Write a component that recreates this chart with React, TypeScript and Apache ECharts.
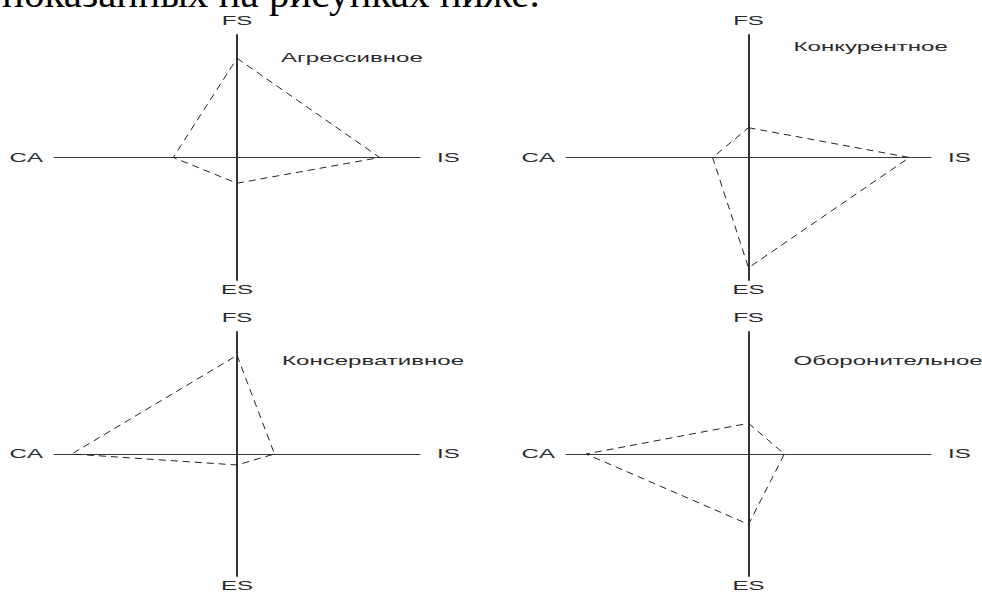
import React, { useEffect, useRef } from "react";
import * as echarts from "echarts";

const strategies = ["Агрессивное", "Конкурентное", "Консервативное", "Оборонительное"];
const axisNames = ["FS", "ES", "CA", "IS"];
const fsValues = [4.86, 1.46, 4.85, 1.51];
const isValues = [4.68, 5.29, 1.23, 1.18];
const esValues = [-1.26, -5.4, -0.54, -3.46];
const caValues = [-2.09, -1.18, -5.42, -5.34];
const axisTicks = [-6, 6];
const headerText = "показанных на рисунках ниже.";

// layout of the four panels (pixels)
const panels = [
  { left: 54, top: 35, width: 366, height: 245 },
  { left: 566, top: 35, width: 365, height: 245 },
  { left: 54, top: 332, width: 366, height: 244 },
  { left: 566, top: 332, width: 365, height: 244 },
];
const titleOffsets = [
  { dx: 44, y: 57.5 },
  { dx: 45, y: 47 },
  { dx: 45, y: 360.7 },
  { dx: 45, y: 361 },
];

const LABEL_FONT = '"Liberation Sans", Arial, sans-serif';
const STRETCH = 1.85;

export default function App() {
  const ref = useRef<HTMLDivElement>(null);
  useEffect(() => {
    if (!ref.current) return;
    const chart = echarts.init(ref.current, null, { renderer: "svg" });
    const grid = panels.map((p) => ({ left: p.left, top: p.top, width: p.width, height: p.height }));
    const xAxis = panels.map((_, i) => ({
      type: "value",
      gridIndex: i,
      min: axisTicks[0],
      max: axisTicks[1],
      axisLine: { show: true, onZero: true, lineStyle: { color: "#3a3a3a", width: 1 } },
      axisTick: { show: false },
      axisLabel: { show: false },
      splitLine: { show: false },
    }));
    const yAxis = panels.map((_, i) => ({
      type: "value",
      gridIndex: i,
      min: axisTicks[0],
      max: axisTicks[1],
      axisLine: { show: true, onZero: true, lineStyle: { color: "#333", width: 2 } },
      axisTick: { show: false },
      axisLabel: { show: false },
      splitLine: { show: false },
    }));
    const series = strategies.map((name, i) => ({
      type: "line",
      name,
      xAxisIndex: i,
      yAxisIndex: i,
      symbol: "none",
      silent: true,
      lineStyle: { type: [7, 5], width: 1, color: "#222" },
      data: [
        [0, fsValues[i]],
        [isValues[i], 0],
        [0, esValues[i]],
        [caValues[i], 0],
        [0, fsValues[i]],
      ],
    }));

    const label = (text: string, x: number, y: number, align: string) => ({
      type: "text",
      x,
      y,
      scaleX: STRETCH,
      silent: true,
      style: {
        text,
        fontFamily: LABEL_FONT,
        fontSize: 13,
        fill: "#2a2a2a",
        align,
        verticalAlign: "middle",
      },
    });

    const graphics: any[] = [
      {
        type: "text",
        x: 2,
        y: -7.3,
        silent: true,
        style: {
          text: headerText,
          fontFamily: '"Liberation Serif", "Times New Roman", serif',
          fontSize: 41,
          fill: "#000",
          align: "left",
          verticalAlign: "middle",
        },
      },
    ];
    panels.forEach((p, i) => {
      const cx = p.left + p.width / 2;
      const cy = p.top + p.height / 2;
      graphics.push(label(axisNames[0], cx, p.top - 14, "center"));
      graphics.push(label(axisNames[1], cx, p.top + p.height + 10, "center"));
      graphics.push(label(axisNames[2], p.left - 11, cy, "right"));
      graphics.push(label(axisNames[3], p.left + p.width + 17, cy, "left"));
      graphics.push(label(strategies[i], cx + titleOffsets[i].dx, titleOffsets[i].y, "left"));
    });

    chart.setOption({
      animation: false,
      backgroundColor: "#fff",
      grid,
      xAxis,
      yAxis,
      series,
      graphic: graphics,
    });
    return () => chart.dispose();
  }, []);
  return (
    <div
      ref={ref}
      style={{ position: "absolute", left: 0, top: 0, width: 982, height: 592, background: "#fff" }}
    />
  );
}
